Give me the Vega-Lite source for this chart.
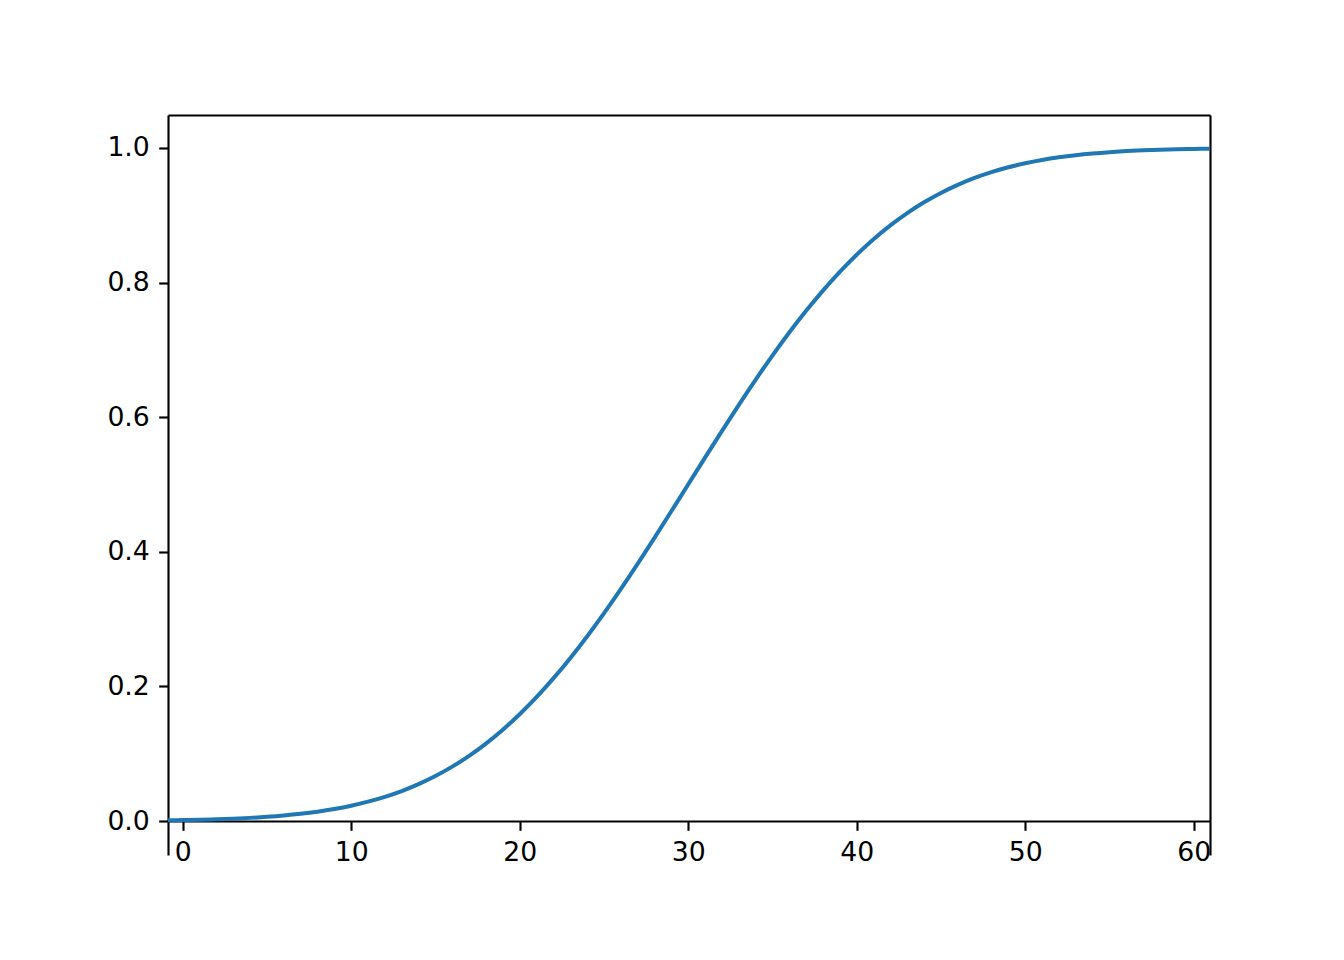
{
  "$schema": "https://vega.github.io/schema/vega-lite/v6.json",
  "width": 1042,
  "height": 740,
  "autosize": {"type": "none"},
  "padding": {"left": 168, "top": 115, "right": 134, "bottom": 105},
  "background": "white",
  "config": {
    "view": {"stroke": null},
    "axis": {
      "labelFont": "DejaVu Sans",
      "labelFontSize": 26.7,
      "labelColor": "black",
      "tickColor": "black",
      "domainColor": "black",
      "domainWidth": 2.13,
      "tickWidth": 2.13,
      "tickSize": 9.33,
      "labelPadding": 9.33,
      "grid": false,
      "title": null,
      "zindex": 1
    }
  },
  "data": {
    "values": [
      {"x": -1, "y": 0.00097}, {"x": 0, "y": 0.00135}, {"x": 1, "y": 0.00187}, {"x": 2, "y": 0.00256},
      {"x": 3, "y": 0.00347}, {"x": 4, "y": 0.00466}, {"x": 5, "y": 0.00621}, {"x": 6, "y": 0.0082},
      {"x": 7, "y": 0.01072}, {"x": 8, "y": 0.0139}, {"x": 9, "y": 0.01786}, {"x": 10, "y": 0.02275},
      {"x": 11, "y": 0.02872}, {"x": 12, "y": 0.03593}, {"x": 13, "y": 0.04457}, {"x": 14, "y": 0.0548},
      {"x": 15, "y": 0.06681}, {"x": 16, "y": 0.08076}, {"x": 17, "y": 0.0968}, {"x": 18, "y": 0.11507},
      {"x": 19, "y": 0.13567}, {"x": 20, "y": 0.15866}, {"x": 21, "y": 0.18406}, {"x": 22, "y": 0.21186},
      {"x": 23, "y": 0.24196}, {"x": 24, "y": 0.27425}, {"x": 25, "y": 0.30854}, {"x": 26, "y": 0.34458},
      {"x": 27, "y": 0.38209}, {"x": 28, "y": 0.42074}, {"x": 29, "y": 0.46017}, {"x": 30, "y": 0.5},
      {"x": 31, "y": 0.53983}, {"x": 32, "y": 0.57926}, {"x": 33, "y": 0.61791}, {"x": 34, "y": 0.65542},
      {"x": 35, "y": 0.69146}, {"x": 36, "y": 0.72575}, {"x": 37, "y": 0.75804}, {"x": 38, "y": 0.78814},
      {"x": 39, "y": 0.81594}, {"x": 40, "y": 0.84134}, {"x": 41, "y": 0.86433}, {"x": 42, "y": 0.88493},
      {"x": 43, "y": 0.9032}, {"x": 44, "y": 0.91924}, {"x": 45, "y": 0.93319}, {"x": 46, "y": 0.9452},
      {"x": 47, "y": 0.95543}, {"x": 48, "y": 0.96407}, {"x": 49, "y": 0.97128}, {"x": 50, "y": 0.97725},
      {"x": 51, "y": 0.98214}, {"x": 52, "y": 0.9861}, {"x": 53, "y": 0.98928}, {"x": 54, "y": 0.9918},
      {"x": 55, "y": 0.99379}, {"x": 56, "y": 0.99534}, {"x": 57, "y": 0.99653}, {"x": 58, "y": 0.99744},
      {"x": 59, "y": 0.99813}, {"x": 60, "y": 0.99865}, {"x": 61, "y": 0.99903}
    ]
  },
  "layer": [
    {
      "mark": {"type": "line", "color": "#1f77b4", "strokeWidth": 4, "clip": true, "interpolate": "monotone"},
      "encoding": {
        "x": {
          "field": "x", "type": "quantitative",
          "scale": {"domain": [-0.87, 60.97], "nice": false, "zero": false},
          "axis": {"orient": "bottom", "offset": -34, "values": [0, 10, 20, 30, 40, 50, 60], "format": "d"}
        },
        "y": {
          "field": "y", "type": "quantitative",
          "scale": {"domain": [-0.0505, 1.049], "nice": false, "zero": false},
          "axis": {"orient": "left", "values": [0, 0.2, 0.4, 0.6, 0.8, 1.0], "format": ".1f"}
        }
      }
    },
    {
      "mark": {"type": "line", "opacity": 0, "clip": true},
      "encoding": {
        "x": {
          "field": "x", "type": "quantitative",
          "scale": {"domain": [-0.87, 60.97], "nice": false, "zero": false},
          "axis": {"orient": "top", "labels": false, "ticks": false}
        },
        "y": {
          "field": "y", "type": "quantitative",
          "scale": {"domain": [-0.0505, 1.049], "nice": false, "zero": false},
          "axis": {"orient": "right", "labels": false, "ticks": false}
        }
      }
    }
  ],
  "resolve": {"axis": {"x": "independent", "y": "independent"}}
}
